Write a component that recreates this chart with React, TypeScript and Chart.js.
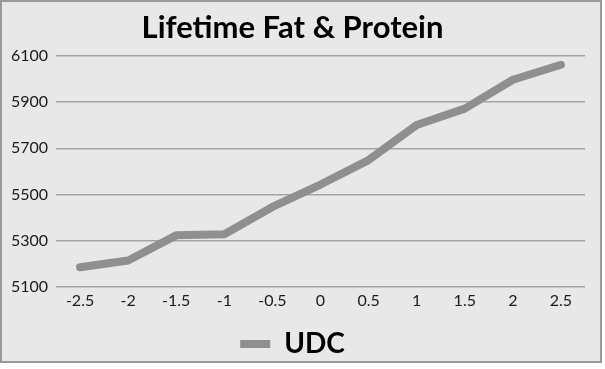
import React, { useEffect, useRef } from "react";
import { Chart, registerables } from "chart.js";

Chart.register(...registerables);

const categories = ["-2.5", "-2", "-1.5", "-1", "-0.5", "0", "0.5", "1", "1.5", "2", "2.5"];
const udcValues = [5185, 5214, 5323, 5328, 5446, 5543, 5649, 5801, 5872, 5997, 6062];
const seriesName = "UDC";
const chartTitle = "Lifetime Fat & Protein";
const yMin = 5100;
const yMax = 6100;
const yStep = 200;

const FONT = "Lato, 'Open Sans', sans-serif";

const backgroundPlugin = {
  id: "bgBox",
  beforeDraw(chart: any) {
    const { ctx, width, height } = chart;
    ctx.save();
    ctx.fillStyle = "#ffffff";
    ctx.fillRect(0, 0, width, height);
    ctx.fillStyle = "#e8e8e8";
    ctx.fillRect(0, 0, 602, 363);
    ctx.strokeStyle = "#999999";
    ctx.lineWidth = 2;
    ctx.strokeRect(1, 1, 600, 361);
    ctx.restore();
  },
};

export default function App() {
  const ref = useRef<HTMLCanvasElement | null>(null);
  useEffect(() => {
    if (!ref.current) return;
    const chart = new Chart(ref.current, {
      type: "line",
      data: {
        labels: categories,
        datasets: [
          {
            label: seriesName,
            data: udcValues,
            borderColor: "#8f8f8f",
            backgroundColor: "#8f8f8f",
            borderWidth: 8,
            borderCapStyle: "round",
            borderJoinStyle: "round",
            pointRadius: 0,
            pointHoverRadius: 0,
            pointStyle: "line",
            tension: 0,
            fill: false,
          },
        ],
      },
      options: {
        animation: false,
        responsive: false,
        maintainAspectRatio: false,
        layout: { padding: { left: 0, right: 20, top: 0, bottom: 1 } },
        plugins: {
          title: {
            display: true,
            text: chartTitle,
            color: "#000000",
            font: { family: FONT, size: 31, weight: "bold" },
            padding: { top: 9, bottom: 9.8 },
          },
          legend: {
            display: true,
            position: "bottom",
            labels: {
              usePointStyle: true,
              pointStyleWidth: 30,
              color: "#000000",
              font: { family: FONT, size: 28, weight: "bold" },
              padding: 16,
            },
          },
          tooltip: { enabled: false },
        },
        scales: {
          x: {
            offset: true,
            grid: { display: false, drawTicks: false },
            border: { display: false },
            ticks: {
              color: "#1a1a1a",
              font: { family: FONT, size: 16 },
              padding: 4,
              maxRotation: 0,
              autoSkip: false,
            },
          },
          y: {
            min: yMin,
            max: yMax,
            grid: { color: "#a3a3a3", lineWidth: 1.5, drawTicks: false },
            border: { display: false },
            ticks: {
              stepSize: yStep,
              color: "#1a1a1a",
              font: { family: FONT, size: 16 },
              padding: 8,
              callback: (v: any) => String(v),
            },
            afterFit: (scale: any) => {
              scale.width = 56;
            },
          },
        },
      },
      plugins: [backgroundPlugin],
    });
    return () => chart.destroy();
  }, []);
  return (
    <div style={{ position: "fixed", left: 0, top: 0, width: 605, height: 369 }}>
      <canvas ref={ref} width={605} height={369} style={{ width: 605, height: 369, display: "block" }} />
    </div>
  );
}
